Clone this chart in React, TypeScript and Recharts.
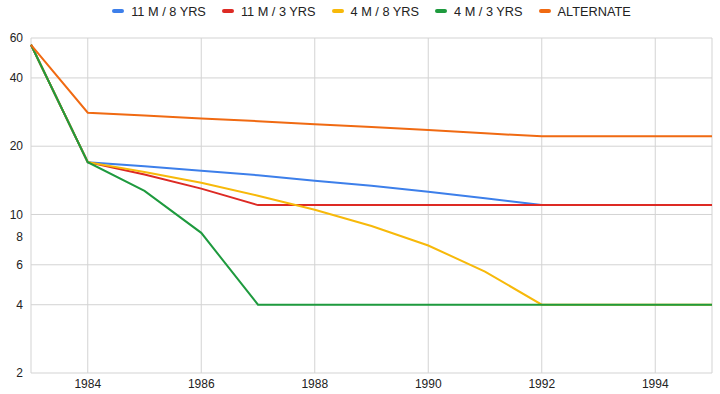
import { LineChart, Line, XAxis, YAxis, CartesianGrid, Legend } from "recharts";

const years = [1983, 1984, 1985, 1986, 1987, 1988, 1989, 1990, 1991, 1992, 1993, 1994, 1995];
const m11y8 = [56, 17, 16.3, 15.6, 14.9, 14.1, 13.4, 12.6, 11.8, 11, 11, 11, 11];
const m11y3 = [56, 17, 15, 13, 11, 11, 11, 11, 11, 11, 11, 11, 11];
const m4y8 = [56, 17, 15.4, 13.8, 12.1, 10.5, 8.9, 7.3, 5.6, 4, 4, 4, 4];
const m4y3 = [56, 17, 12.7, 8.3, 4, 4, 4, 4, 4, 4, 4, 4, 4];
const alternate = [56, 28.1, 27.3, 26.5, 25.8, 25, 24.3, 23.6, 22.8, 22.1, 22.1, 22.1, 22.1];

const xTicks = [1984, 1986, 1988, 1990, 1992, 1994];
const yTicks = [2, 4, 6, 8, 10, 20, 40, 60];

const series = [
  { key: "m11y8", name: "11 M / 8 YRS", color: "#3d7fea" },
  { key: "m11y3", name: "11 M / 3 YRS", color: "#dd2a24" },
  { key: "m4y8", name: "4 M / 8 YRS", color: "#f7b90a" },
  { key: "m4y3", name: "4 M / 3 YRS", color: "#1e9a3e" },
  { key: "alternate", name: "ALTERNATE", color: "#f06a12" },
];

const data = years.map((year, i) => ({
  year,
  m11y8: m11y8[i],
  m11y3: m11y3[i],
  m4y8: m4y8[i],
  m4y3: m4y3[i],
  alternate: alternate[i],
}));

const font = "'Liberation Sans', Arial, sans-serif";

function LegendRow() {
  return (
    <div
      style={{
        display: "flex",
        justifyContent: "center",
        alignItems: "center",
        height: 22,
        paddingLeft: 31,
        paddingRight: 8,
        boxSizing: "border-box",
        fontFamily: font,
        fontSize: 12.75,
        color: "#222",
      }}
    >
      {series.map((s, i) => (
        <div
          key={s.key}
          style={{ display: "flex", alignItems: "center", marginLeft: i === 0 ? 0 : 16 }}
        >
          <span
            style={{
              display: "inline-block",
              width: 12,
              height: 4,
              borderRadius: 2,
              background: s.color,
              marginRight: 7,
            }}
          />
          <span>{s.name}</span>
        </div>
      ))}
    </div>
  );
}

export default function App() {
  return (
    <div style={{ position: "absolute", left: 0, top: 0, background: "#fff" }}>
      <LineChart
        width={720}
        height={394}
        data={data}
        margin={{ top: 16, right: 8, bottom: 0, left: 0 }}
      >
        <CartesianGrid stroke="#d3d3d3" />
        <XAxis
          dataKey="year"
          type="number"
          domain={[1983, 1995]}
          ticks={xTicks}
          axisLine={false}
          tickLine={false}
          tickMargin={0}
          height={21}
          tick={{ fill: "#222", fontSize: 12, fontFamily: font }}
        />
        <YAxis
          scale="log"
          domain={[2, 60]}
          ticks={yTicks}
          allowDataOverflow
          axisLine={false}
          tickLine={false}
          width={31}
          tick={{ fill: "#222", fontSize: 12, fontFamily: font }}
        />
        <Legend
          verticalAlign="top"
          content={() => <LegendRow />}
          wrapperStyle={{ top: 0, left: 0, width: 720, height: 22 }}
        />
        {series.map((s) => (
          <Line
            key={s.key}
            dataKey={s.key}
            name={s.name}
            stroke={s.color}
            strokeWidth={2}
            dot={false}
            type="linear"
            isAnimationActive={false}
          />
        ))}
      </LineChart>
    </div>
  );
}
